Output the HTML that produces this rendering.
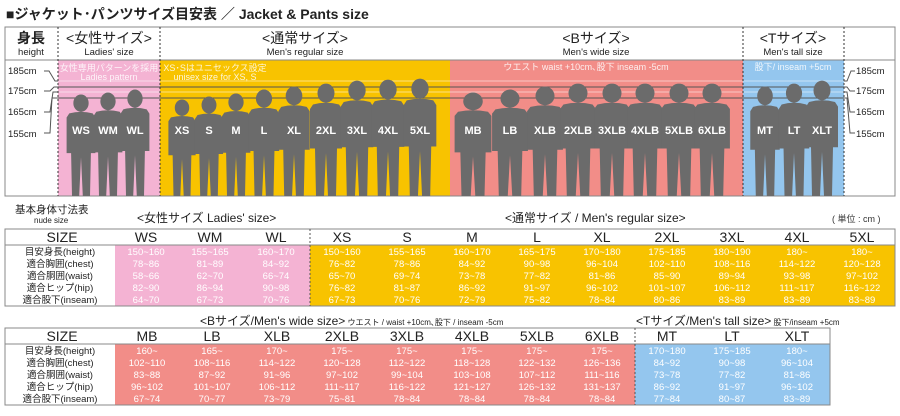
<!DOCTYPE html>
<html><head><meta charset="utf-8"><style>
body{margin:0;background:#fff;width:900px;height:416px;overflow:hidden}
svg{display:block;font-family:"Liberation Sans","Noto Sans CJK JP",sans-serif}
.w{fill:#fff;font-size:9.5px;text-anchor:middle}
.h{font-size:14px;text-anchor:middle;fill:#222}
.l{font-size:9.5px;text-anchor:middle;fill:#222}
.fl{fill:#fff;font-size:11px;font-weight:bold;text-anchor:middle}
</style></head><body>
<svg width="900" height="416" viewBox="0 0 900 416">
<defs>
<path id="p" d="M0,0.5 A8.5,8.5 0 1 1 0,17.5 A8.5,8.5 0 1 1 0,0.5 Z M-13,19 Q0,16 13,19 L16,23 L16,58 L11,58 L10,100 L2,100 L0,62 L-2,100 L-10,100 L-11,58 L-16,58 L-16,23 Z" fill="#6b6b6b"/>
</defs>
<text x="6" y="19" font-size="14" font-weight="bold" fill="#222">■ジャケット･パンツサイズ目安表 ／ Jacket &amp; Pants size</text>
<!-- top panel -->
<rect x="58" y="60" width="102" height="136" fill="#f4b3d3"/>
<rect x="160" y="60" width="290" height="136" fill="#f8c300"/>
<rect x="450" y="60" width="293" height="136" fill="#f28d88"/>
<rect x="743" y="60" width="101" height="136" fill="#94c6ee"/>
<g stroke-width="1">
<line x1="58" y1="81" x2="844" y2="81" stroke="#fff" opacity=".5"/>
<line x1="58" y1="87" x2="844" y2="87" stroke="#555"/>
<line x1="58" y1="92" x2="844" y2="92" stroke="#fff" opacity=".5"/>
<line x1="58" y1="98" x2="844" y2="98" stroke="#555"/>
</g>
<rect x="5" y="27" width="890" height="169" fill="none" stroke="#888"/>
<line x1="5" y1="60" x2="895" y2="60" stroke="#888"/>
<g stroke="#333" stroke-dasharray="2,2"><line x1="58" y1="27" x2="58" y2="196"/><line x1="160" y1="27" x2="160" y2="196"/><line x1="743" y1="27" x2="743" y2="196"/><line x1="844" y1="27" x2="844" y2="196"/></g>
<text x="31" y="43" class="h" font-weight="bold">身長</text><text x="31" y="55" class="l">height</text>
<text x="109" y="43" class="h">&lt;女性サイズ&gt;</text><text x="109" y="55" class="l">Ladies' size</text>
<text x="305" y="43" class="h">&lt;通常サイズ&gt;</text><text x="305" y="55" class="l">Men's regular size</text>
<text x="596" y="43" class="h">&lt;Bサイズ&gt;</text><text x="596" y="55" class="l">Men's wide size</text>
<text x="793" y="43" class="h">&lt;Tサイズ&gt;</text><text x="793" y="55" class="l">Men's tall size</text>
<g font-size="9.5" fill="#222"><text x="8" y="74">185cm</text><text x="8" y="94">175cm</text><text x="8" y="115">165cm</text><text x="8" y="137">155cm</text>
<text x="856" y="74">185cm</text><text x="856" y="94">175cm</text><text x="856" y="115">165cm</text><text x="856" y="137">155cm</text></g>
<g stroke="#555" fill="none"><path d="M44,71 L49,71 L55,81 L58,81"/><path d="M44,91 L50,91 L54,87 L58,87"/><path d="M44,112 L50,112 L53,92 L58,92"/><path d="M44,133 L50,133 L52,98 L58,98"/>
<path d="M855,71 L851,71 L847,81 L844,81"/><path d="M855,91 L850,91 L847,87 L844,87"/><path d="M855,112 L850,112 L847,92 L844,92"/><path d="M855,133 L850,133 L847,98 L844,98"/></g>
<g fill="#fff" font-size="9" text-anchor="middle" opacity=".85"><text x="109" y="71">女性専用パターンを採用</text><text x="109" y="80">Ladies pattern</text>
<text x="215" y="71">XS･Sはユニセックス設定</text><text x="215" y="80">unisex size for XS, S</text>
<text x="586" y="70">ウエスト waist +10cm､股下 inseam -5cm</text><text x="793" y="70">股下/ inseam +5cm</text></g>
<!-- figures -->
<use href="#p" transform="translate(81,94) scale(0.9,1.02)"/>
<use href="#p" transform="translate(108,92) scale(0.9,1.04)"/>
<use href="#p" transform="translate(135,89) scale(0.9,1.07)"/>
<use href="#p" transform="translate(182,99) scale(0.85,0.97)"/>
<use href="#p" transform="translate(209,96) scale(0.88,1.0)"/>
<use href="#p" transform="translate(236,93) scale(0.9,1.03)"/>
<use href="#p" transform="translate(264,89) scale(0.95,1.07)"/>
<use href="#p" transform="translate(294,86) scale(0.98,1.1)"/>
<use href="#p" transform="translate(326,83) scale(1.0,1.13)"/>
<use href="#p" transform="translate(357,80) scale(1.02,1.16)"/>
<use href="#p" transform="translate(388,79) scale(1.02,1.17)"/>
<use href="#p" transform="translate(420,78) scale(1.02,1.18)"/>
<use href="#p" transform="translate(473,92) scale(1.15,1.04)"/>
<use href="#p" transform="translate(510,89) scale(1.12,1.07)"/>
<use href="#p" transform="translate(545,86) scale(1.12,1.1)"/>
<use href="#p" transform="translate(578,83) scale(1.12,1.13)"/>
<use href="#p" transform="translate(612,83) scale(1.12,1.13)"/>
<use href="#p" transform="translate(645,83) scale(1.12,1.13)"/>
<use href="#p" transform="translate(679,83) scale(1.12,1.13)"/>
<use href="#p" transform="translate(712,83) scale(1.12,1.13)"/>
<use href="#p" transform="translate(765,86) scale(0.92,1.1)"/>
<use href="#p" transform="translate(794,83) scale(0.95,1.13)"/>
<use href="#p" transform="translate(822,80) scale(1.0,1.16)"/>
<g class="fl"><text x="81" y="134">WS</text><text x="108" y="134">WM</text><text x="135" y="134">WL</text>
<text x="182" y="134">XS</text><text x="209" y="134">S</text><text x="236" y="134">M</text><text x="264" y="134">L</text><text x="294" y="134">XL</text><text x="326" y="134">2XL</text><text x="357" y="134">3XL</text><text x="388" y="134">4XL</text><text x="420" y="134">5XL</text>
<text x="473" y="134">MB</text><text x="510" y="134">LB</text><text x="545" y="134">XLB</text><text x="578" y="134">2XLB</text><text x="612" y="134">3XLB</text><text x="645" y="134">4XLB</text><text x="679" y="134">5XLB</text><text x="712" y="134">6XLB</text>
<text x="765" y="134">MT</text><text x="794" y="134">LT</text><text x="822" y="134">XLT</text></g>
<!-- table 1 -->
<text x="15" y="213" font-size="10.5" fill="#222">基本身体寸法表</text><text x="34" y="223" font-size="8" fill="#222">nude size</text>
<text x="137" y="222" font-size="12" fill="#222">&lt;女性サイズ Ladies' size&gt;</text>
<text x="505" y="222" font-size="12" fill="#222">&lt;通常サイズ / Men's regular size&gt;</text>
<text x="832" y="222" font-size="9" fill="#333">( 単位 : cm )</text>
<rect x="115" y="245" width="195" height="61" fill="#f4b3d3"/>
<rect x="310" y="245" width="585" height="61" fill="#f8c300"/>
<rect x="5" y="229" width="890" height="77" fill="none" stroke="#888"/>
<line x1="5" y1="245" x2="895" y2="245" stroke="#888"/>
<line x1="310" y1="229" x2="310" y2="306" stroke="#555" stroke-dasharray="2,2"/>
<g class="h"><text x="62" y="242">SIZE</text><text x="146" y="242">WS</text><text x="210" y="242">WM</text><text x="276" y="242">WL</text><text x="342" y="242">XS</text><text x="407" y="242">S</text><text x="472" y="242">M</text><text x="537" y="242">L</text><text x="602" y="242">XL</text><text x="667" y="242">2XL</text><text x="732" y="242">3XL</text><text x="797" y="242">4XL</text><text x="862" y="242">5XL</text></g>
<g class="l" font-size="9.5"><text x="60" y="255">目安身長(height)</text><text x="60" y="267">適合胸囲(chest)</text><text x="60" y="279">適合胴囲(waist)</text><text x="60" y="291">適合ヒップ(hip)</text><text x="60" y="303">適合股下(inseam)</text></g>
<g class="w">
<text x="146" y="255">150~160</text><text x="210" y="255">155~165</text><text x="276" y="255">160~170</text><text x="342" y="255">150~160</text><text x="407" y="255">155~165</text><text x="472" y="255">160~170</text><text x="537" y="255">165~175</text><text x="602" y="255">170~180</text><text x="667" y="255">175~185</text><text x="732" y="255">180~190</text><text x="797" y="255">180~</text><text x="862" y="255">180~</text>
<text x="146" y="267">78~86</text><text x="210" y="267">81~89</text><text x="276" y="267">84~92</text><text x="342" y="267">76~82</text><text x="407" y="267">78~86</text><text x="472" y="267">84~92</text><text x="537" y="267">90~98</text><text x="602" y="267">96~104</text><text x="667" y="267">102~110</text><text x="732" y="267">108~116</text><text x="797" y="267">114~122</text><text x="862" y="267">120~128</text>
<text x="146" y="279">58~66</text><text x="210" y="279">62~70</text><text x="276" y="279">66~74</text><text x="342" y="279">65~70</text><text x="407" y="279">69~74</text><text x="472" y="279">73~78</text><text x="537" y="279">77~82</text><text x="602" y="279">81~86</text><text x="667" y="279">85~90</text><text x="732" y="279">89~94</text><text x="797" y="279">93~98</text><text x="862" y="279">97~102</text>
<text x="146" y="291">82~90</text><text x="210" y="291">86~94</text><text x="276" y="291">90~98</text><text x="342" y="291">76~82</text><text x="407" y="291">81~87</text><text x="472" y="291">86~92</text><text x="537" y="291">91~97</text><text x="602" y="291">96~102</text><text x="667" y="291">101~107</text><text x="732" y="291">106~112</text><text x="797" y="291">111~117</text><text x="862" y="291">116~122</text>
<text x="146" y="303">64~70</text><text x="210" y="303">67~73</text><text x="276" y="303">70~76</text><text x="342" y="303">67~73</text><text x="407" y="303">70~76</text><text x="472" y="303">72~79</text><text x="537" y="303">75~82</text><text x="602" y="303">78~84</text><text x="667" y="303">80~86</text><text x="732" y="303">83~89</text><text x="797" y="303">83~89</text><text x="862" y="303">83~89</text>
</g>
<!-- table 2 -->
<text x="200" y="325" fill="#222"><tspan font-size="12">&lt;Bサイズ/Men's wide size&gt;</tspan><tspan font-size="8"> ウエスト / waist +10cm､股下 / inseam -5cm</tspan></text>
<text x="636" y="325" fill="#222"><tspan font-size="12">&lt;Tサイズ/Men's tall size&gt;</tspan><tspan font-size="8"> 股下/inseam +5cm</tspan></text>
<rect x="115" y="344" width="520" height="61" fill="#f28d88"/>
<rect x="635" y="344" width="195" height="61" fill="#94c6ee"/>
<rect x="5" y="328" width="825" height="77" fill="none" stroke="#888"/>
<line x1="5" y1="344" x2="830" y2="344" stroke="#888"/>
<line x1="635" y1="328" x2="635" y2="405" stroke="#555" stroke-dasharray="2,2"/>
<g class="h"><text x="62" y="341">SIZE</text><text x="147" y="341">MB</text><text x="212" y="341">LB</text><text x="277" y="341">XLB</text><text x="342" y="341">2XLB</text><text x="407" y="341">3XLB</text><text x="472" y="341">4XLB</text><text x="537" y="341">5XLB</text><text x="602" y="341">6XLB</text><text x="667" y="341">MT</text><text x="732" y="341">LT</text><text x="797" y="341">XLT</text></g>
<g class="l" font-size="9.5"><text x="60" y="354">目安身長(height)</text><text x="60" y="366">適合胸囲(chest)</text><text x="60" y="378">適合胴囲(waist)</text><text x="60" y="390">適合ヒップ(hip)</text><text x="60" y="402">適合股下(inseam)</text></g>
<g class="w">
<text x="147" y="354">160~</text><text x="212" y="354">165~</text><text x="277" y="354">170~</text><text x="342" y="354">175~</text><text x="407" y="354">175~</text><text x="472" y="354">175~</text><text x="537" y="354">175~</text><text x="602" y="354">175~</text><text x="667" y="354">170~180</text><text x="732" y="354">175~185</text><text x="797" y="354">180~</text>
<text x="147" y="366">102~110</text><text x="212" y="366">108~116</text><text x="277" y="366">114~122</text><text x="342" y="366">120~128</text><text x="407" y="366">112~122</text><text x="472" y="366">118~128</text><text x="537" y="366">122~132</text><text x="602" y="366">126~136</text><text x="667" y="366">84~92</text><text x="732" y="366">90~98</text><text x="797" y="366">96~104</text>
<text x="147" y="378">83~88</text><text x="212" y="378">87~92</text><text x="277" y="378">91~96</text><text x="342" y="378">97~102</text><text x="407" y="378">99~104</text><text x="472" y="378">103~108</text><text x="537" y="378">107~112</text><text x="602" y="378">111~116</text><text x="667" y="378">73~78</text><text x="732" y="378">77~82</text><text x="797" y="378">81~86</text>
<text x="147" y="390">96~102</text><text x="212" y="390">101~107</text><text x="277" y="390">106~112</text><text x="342" y="390">111~117</text><text x="407" y="390">116~122</text><text x="472" y="390">121~127</text><text x="537" y="390">126~132</text><text x="602" y="390">131~137</text><text x="667" y="390">86~92</text><text x="732" y="390">91~97</text><text x="797" y="390">96~102</text>
<text x="147" y="402">67~74</text><text x="212" y="402">70~77</text><text x="277" y="402">73~79</text><text x="342" y="402">75~81</text><text x="407" y="402">78~84</text><text x="472" y="402">78~84</text><text x="537" y="402">78~84</text><text x="602" y="402">78~84</text><text x="667" y="402">77~84</text><text x="732" y="402">80~87</text><text x="797" y="402">83~89</text>
</g>
</svg>
</body></html>
